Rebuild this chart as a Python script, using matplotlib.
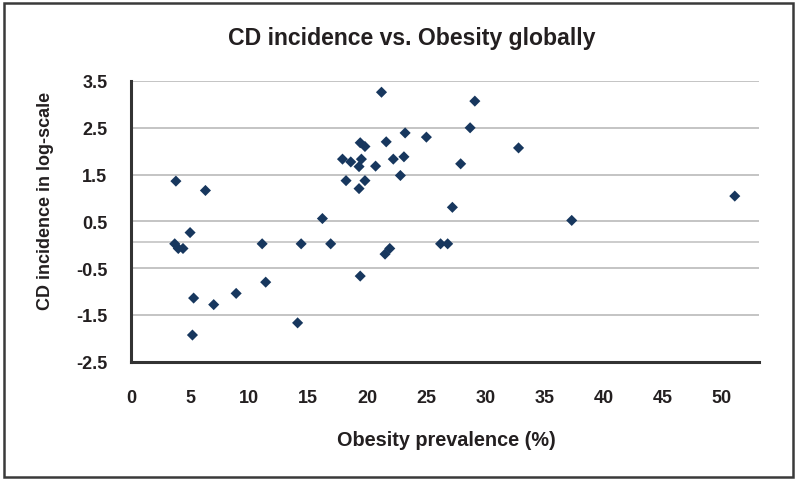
import matplotlib
matplotlib.use("Agg")
import matplotlib.pyplot as plt
from matplotlib.patches import Rectangle

# Data
obesity = [3.8, 6.3, 3.7, 4.0, 4.4, 5.0, 5.3, 5.2, 7.0, 8.9,
           11.1, 11.4, 14.1, 14.4, 16.2, 16.9, 17.9, 18.6, 18.2, 19.3,
           19.3, 19.5, 19.4, 19.8, 19.8, 19.4, 20.7, 21.2, 21.6, 21.5,
           21.9, 22.2, 22.8, 23.1, 23.2, 25.0, 26.2, 26.8, 27.2, 27.9,
           28.7, 29.1, 32.8, 37.3, 51.1]
cd_log = [1.36, 1.16, 0.02, -0.08, -0.08, 0.26, -1.14, -1.93, -1.28, -1.04,
          0.02, -0.80, -1.67, 0.02, 0.56, 0.02, 1.83, 1.77, 1.37, 1.20,
          1.67, 1.83, 2.18, 2.10, 1.37, -0.67, 1.68, 3.26, 2.20, -0.20,
          -0.08, 1.83, 1.48, 1.88, 2.39, 2.30, 0.02, 0.02, 0.80, 1.73,
          2.50, 3.07, 2.07, 0.52, 1.04]

x_ticks = [0, 5, 10, 15, 20, 25, 30, 35, 40, 45, 50]
y_ticks = [-2.5, -1.5, -0.5, 0.5, 1.5, 2.5, 3.5]

FONT = ['Liberation Sans', 'DejaVu Sans']
TXT = '#231F20'
plt.rcParams['font.family'] = FONT

fig = plt.figure(figsize=(7.96, 4.81), dpi=100)
ax = fig.add_axes([131/796, 1-362.7/481, (759-131)/796, (362.7-82)/481])

ax.set_xlim(0, 53.15)
ax.set_ylim(-2.5, 3.5)

for y in y_ticks[1:]:
    ax.axhline(y, color='#BFBFBF', lw=1.3, zorder=1)
ax.axhline(0.05, color='#C8C8C8', lw=1.3, zorder=1)

ax.scatter(obesity, cd_log, marker='D', s=32, color='#17375E',
           edgecolors='none', zorder=3)

ax.set_xticks(x_ticks)
ax.set_yticks(y_ticks)
ax.set_xticklabels([str(v) for v in x_ticks])
ax.set_yticklabels([f"{v:g}" for v in y_ticks])
ax.tick_params(length=0, labelsize=13, colors=TXT)
ax.tick_params(axis='x', pad=19.5)
ax.tick_params(axis='y', pad=17)
for lab in ax.get_xticklabels() + ax.get_yticklabels():
    lab.set_fontweight('bold')

for s in ['top', 'right']:
    ax.spines[s].set_visible(False)
for s in ['left', 'bottom']:
    ax.spines[s].set_color('#333333')
    ax.spines[s].set_linewidth(2.2)

fig.text(412/796, 1-39/481, 'CD incidence vs. Obesity globally',
         ha='center', va='center', fontsize=16.6, fontweight='bold', color=TXT)
fig.text(446/796, 1-440/481, 'Obesity prevalence (%)',
         ha='center', va='center', fontsize=14.3, fontweight='bold', color=TXT)
fig.text(46/796, 1-201/481, 'CD incidence in log-scale', rotation=90,
         ha='center', va='center', fontsize=13, fontweight='bold', color=TXT)

fig.patches.append(Rectangle((3.5/796, 3.5/481), 789/796, 474/481,
                             transform=fig.transFigure, fill=False,
                             edgecolor='#3A3A3A', lw=1.8))

fig.savefig('out.png', dpi=100)
